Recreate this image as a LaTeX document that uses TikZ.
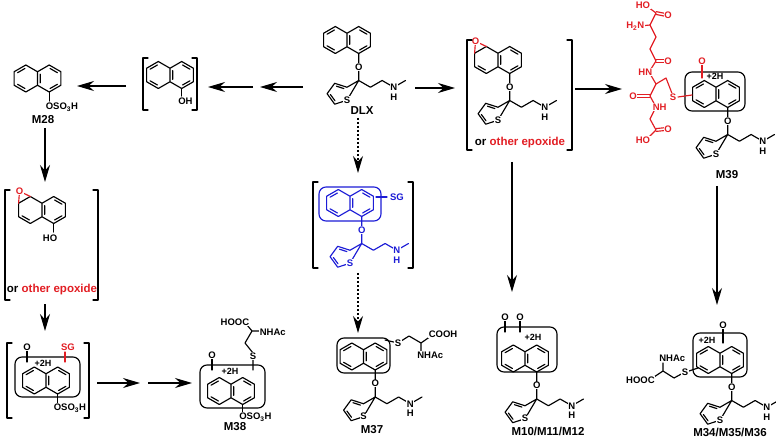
\documentclass[tikz,border=0pt]{standalone}
\usepackage{fontspec}
\setmainfont{Liberation Sans}
\usetikzlibrary{arrows.meta,calc}
\definecolor{chemred}{RGB}{226,30,36}
\definecolor{chemblue}{RGB}{28,28,214}
\tikzset{
  bond/.style={line width=1.15pt, line cap=round, line join=round},
  atom/.style={font=\fontsize{9.5}{10}\selectfont\bfseries, fill=white, inner sep=0.6pt},
  hplus/.style={font=\fontsize{9}{10}\selectfont\bfseries, inner sep=0.5pt},
  lab/.style={font=\fontsize{11.5}{12}\selectfont\bfseries, inner sep=0.5pt},
  epi/.style={font=\fontsize{11.5}{12}\selectfont\bfseries, inner sep=0.5pt},
  cbox/.style={bond, rounded corners=7pt},
  arr/.style={line width=1.15pt, -{Stealth[length=17pt,width=10pt]}},
  darr/.style={arr, dash pattern=on 2pt off 2pt},
}
% naphthalene, centre of the shared bond at (#2,#3)
\newcommand{\naphring}[3][black]{%
  \begin{scope}[shift={(#2,#3)},color=#1]
    \draw[bond] (0,-6.75) -- (-11.7,-13.5) -- (-23.4,-6.75) -- (-23.4,6.75)
      -- (-11.7,13.5) -- (0,6.75) -- (11.7,13.5) -- (23.4,6.75)
      -- (23.4,-6.75) -- (11.7,-13.5) -- cycle (0,-6.75) -- (0,6.75);
    \draw[bond] (2.7,-4.4) -- (2.7,4.4) (12.6,10.0) -- (19.9,5.8)
      (19.9,-5.8) -- (12.6,-10.0) (-19.9,5.8) -- (-12.6,10.0);
  \end{scope}}
\newcommand{\naph}[3][black]{%
  \naphring[#1]{#2}{#3}
  \draw[bond,#1] (#2-12.6,#3-10.0) -- (#2-19.9,#3-5.8);}
\newcommand{\naphepox}[2]{%
  \naphring{#1}{#2}
  \begin{scope}[shift={(#1,#2)}]
    \draw[bond,chemred] (-11.7,-13.5) -- (-22.5,-18.8) -- (-23.4,-6.75);
    \node[atom,text=chemred] at (-22.5,-18.8) {O};
  \end{scope}}
% O-CH(thienyl)-CH2CH2-NHMe, hung from ring atom (#2,#3)
\newcommand{\sidechain}[3][black]{%
  \begin{scope}[shift={(#2,#3)},color=#1]
    \draw[bond] (0,0) -- (0,27) -- (11.7,33.75) -- (23.4,27) -- (35.1,33.75) -- (46.8,27)
      (0,27) -- (-11.7,33.75) -- (-24,29.8) -- (-31.6,40.2) -- (-24,50.7) -- (-11.7,46.7) -- cycle;
    \draw[bond] (-14.8,35.1) -- (-22.2,32.7) (-28.3,41.0) -- (-23.7,47.3);
    \node[atom] at (0,13.5) {O};
    \node[atom] at (-11.7,46.7) {S};
    \node[atom] at (35.1,33.75) {N};
    \node[atom] at (35.1,43.6) {H};
  \end{scope}}
\newcommand{\brk}[4]{%
  \draw[bond] (#1+5,#3) -- (#1,#3) -- (#1,#4) -- (#1+5,#4)
    (#2-5,#3) -- (#2,#3) -- (#2,#4) -- (#2-5,#4);}
\newcommand{\dbl}[3][]{%
  \draw[bond,#1] ($(#2)!1.4pt!90:(#3)$) -- ($(#3)!1.4pt!-90:(#2)$)
    ($(#2)!1.4pt!-90:(#3)$) -- ($(#3)!1.4pt!90:(#2)$);}

\begin{document}
\begin{tikzpicture}[x=1pt,y=-1pt]
\useasboundingbox (0,0) rectangle (776,438);

% DLX
\naph{347}{40}
\sidechain{358.7}{53.5}
\node[lab] (dlx) at (362,111) {DLX};

% 1-naphthol
\naph{170}{75}
\draw[bond] (181.7,88.5) -- (181.7,96);
\node[atom,anchor=west] (oh) at (177.5,101) {OH};
\brk{143}{197}{58}{110}

% M28
\naph{37.5}{78.5}
\draw[bond] (49.2,92) -- (49.2,101);
\node[atom,anchor=west] at (45,107) {OSO\textsubscript{3}H};
\node[lab] (m28) at (43,120) {M28};

% epoxide of the naphthol
\naphepox{42}{210}
\draw[bond] (53.7,223.5) -- (53.7,232);
\node[atom,anchor=east] at (58,238) {HO};
\node[epi] (ep1) at (52,290) {or \textcolor{chemred}{other epoxide}};
\brk{5}{98}{190}{300}

% epoxide of DLX
\naphepox{498}{60}
\sidechain{509.7}{73.5}
\node[epi] (ep2) at (520,143) {or \textcolor{chemred}{other epoxide}};
\brk{467}{572}{40}{150}

% glutathione adduct (blue)
\naph[chemblue]{350}{203}
\draw[cbox,chemblue] (319,187) rectangle (381,221);
\sidechain[chemblue]{361.7}{216.5}
\draw[bond,chemblue] (376,197) -- (387,197);
\node[atom,text=chemblue] at (397,197) {SG};
\brk{313}{413}{182}{268}

% sulfate, SG adduct
\naph{46}{380.5}
\draw[cbox] (15,357) rectangle (80,397);
\draw[bond] (57.7,394) -- (57.7,403);
\node[atom,anchor=west] at (53,408) {OSO\textsubscript{3}H};
\draw[bond] (27,351) -- (27,362);
\node[atom] at (27,347) {O};
\draw[bond,chemred] (65,352) -- (65,362);
\node[atom,text=chemred] at (68,347) {SG};
\node[hplus] at (43,363) {+2H};
\brk{7}{89}{343}{418}

% M38
\naph{231}{391}
\draw[cbox] (200,365) rectangle (265,408);
\draw[bond] (242.7,404.5) -- (242.7,412);
\node[atom,anchor=west] at (238.5,417) {OSO\textsubscript{3}H};
\draw[bond] (212,359) -- (212,370);
\node[atom] at (212,355) {O};
\draw[bond] (253,360) -- (253,370) (253,353) -- (245,343) -- (252,331) -- (260,331)
  (252,331) -- (247,325);
\node[atom] at (253,356) {S};
\node[atom,anchor=west] at (259,332) {NHAc};
\node[atom,anchor=east] at (250,322) {HOOC};
\node[hplus] at (230,371) {+2H};
\node[lab] (m38) at (235,427) {M38};

% M37
\naph{363.5}{356.5}
\draw[cbox] (337,338) rectangle (390,373);
\sidechain{375.2}{370}
\draw[bond] (385,340) -- (398,343) -- (409,336) -- (421,343) -- (431,336)
  (421,343) -- (421,351);
\node[atom] at (398,343) {S};
\node[atom,anchor=west] at (428,334) {COOH};
\node[atom,anchor=west] at (416.5,355) {NHAc};
\node[lab] (m37) at (372,430) {M37};

% M10/M11/M12
\naph{525}{358.5}
\draw[cbox] (497,327) rectangle (557,372);
\sidechain{536.7}{372}
\draw[bond] (505,321) -- (505,332) (520,321) -- (520,332);
\node[atom] at (505,317) {O};
\node[atom] at (520,317) {O};
\node[hplus] at (533,337) {+2H};
\node[lab] (m10) at (548,431) {M10/M11/M12};

% M39
\naph{716}{94}
\draw[cbox] (685,72) rectangle (745,111);
\sidechain{727.7}{107.5}
\draw[bond,chemred] (702,65) -- (702,78);
\node[atom,text=chemred] at (702,61) {O};
\node[hplus] at (715,76) {+2H};
\node[lab] (m39) at (727,175) {M39};
\begin{scope}[color=chemred]
  \draw[bond] (648,7) -- (656,13) -- (650,25) -- (656,37) -- (650,49) -- (656,61)
    -- (649,72) -- (656,84) -- (650,96) -- (656,107) -- (650,119) -- (656,130) -- (647,139);
  \draw[bond] (650,25) -- (640,26) (656,84) -- (666,78) -- (673,96) (678,97) -- (692,95);
  \dbl{656,13}{666,15}
  \dbl{656,61}{666,61}
  \dbl{650,96}{637,96}
  \dbl{656,130}{666,129}
  \node[atom] at (643,5) {HO};
  \node[atom] at (668,15) {O};
  \node[atom,anchor=east] at (645,26) {H\textsubscript{2}N};
  \node[atom] at (668,61) {O};
  \node[atom,anchor=east] at (653,72) {HN};
  \node[atom] at (633,96) {O};
  \node[atom,anchor=west] at (652,107) {NH};
  \node[atom] at (668,129) {O};
  \node[atom] at (643,140) {HO};
  \node[atom] at (673,97) {S};
\end{scope}

% M34/M35/M36
\naph{720}{360}
\draw[cbox] (693,333) rectangle (747,377);
\sidechain{731.7}{373.5}
\draw[bond] (723,329) -- (723,343);
\node[atom] at (723,325) {O};
\node[hplus] at (707,340) {+2H};
\draw[bond] (689,371) -- (698,368) (685,372) -- (674,378) -- (663,371) -- (654,377)
  (663,371) -- (663,363);
\node[atom] at (685,372) {S};
\node[atom,anchor=west] at (658.5,358) {NHAc};
\node[atom,anchor=east] at (655.5,380) {HOOC};
\node[lab] (m34) at (730,432) {M34/M35/M36};

% arrows
\coordinate (dlx-w) at (303,87);   \coordinate (ol-e1) at (260,87);
\coordinate (ol-e2) at (253,87);   \coordinate (ol-e) at (208,87);
\coordinate (ol-w) at (126,86);    \coordinate (m28-e) at (77,86);
\coordinate (dlx-e) at (415,88);   \coordinate (ep2-w) at (455,88);
\coordinate (ep2-e) at (575,89);   \coordinate (m39-w) at (622,89);
\coordinate (m39-s) at (717,186);  \coordinate (m34-n) at (717,305);
\coordinate (ep2-s) at (512,162);  \coordinate (m10-n) at (512,292);
\coordinate (dlx-s) at (358,118);  \coordinate (sg-n) at (358,173);
\coordinate (sg-s) at (358,273);   \coordinate (m37-n) at (358,333);
\coordinate (m28-s) at (45,128);   \coordinate (ep1-n) at (45,182);
\coordinate (ep1-s) at (45,304);   \coordinate (sgl-n) at (45,331);
\coordinate (sgl-e) at (97,383);   \coordinate (mid-w) at (140,383);
\coordinate (mid-e) at (148,383);  \coordinate (m38-w) at (192,383);
\draw[arr] (dlx-w) -- (ol-e1);
\draw[arr] (ol-e2) -- (ol-e);
\draw[arr] (ol-w) -- (m28-e);
\draw[arr] (dlx-e) -- (ep2-w);
\draw[arr] (ep2-e) -- (m39-w);
\draw[arr] (m39-s) -- (m34-n);
\draw[arr] (ep2-s) -- (m10-n);
\draw[darr] (dlx-s) -- (sg-n);
\draw[darr] (sg-s) -- (m37-n);
\draw[arr] (m28-s) -- (ep1-n);
\draw[arr] (ep1-s) -- (sgl-n);
\draw[arr] (sgl-e) -- (mid-w);
\draw[arr] (mid-e) -- (m38-w);
\end{tikzpicture}
\end{document}
